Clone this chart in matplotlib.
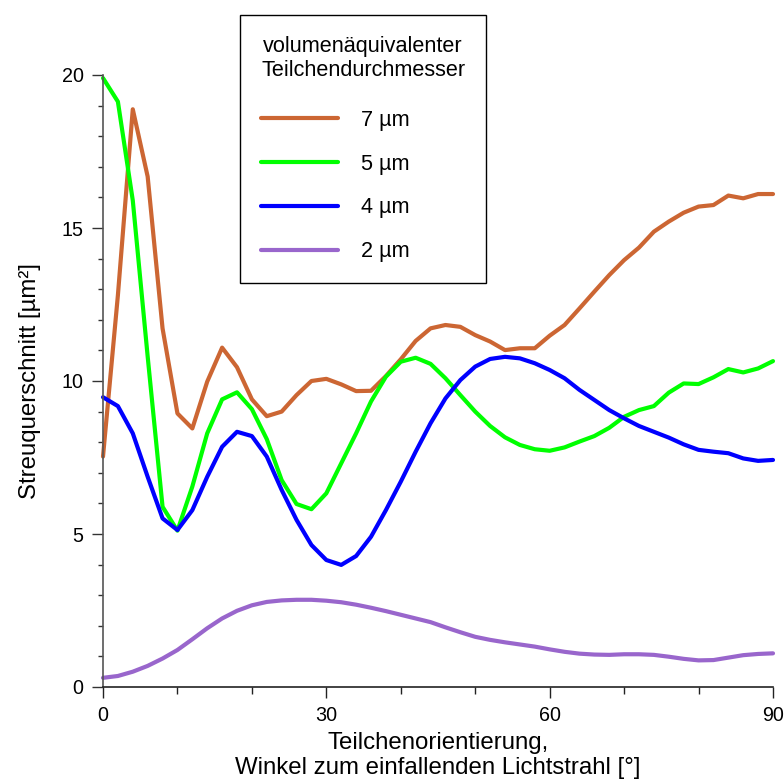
import matplotlib
matplotlib.use("Agg")
import matplotlib.pyplot as plt
from matplotlib.ticker import MultipleLocator, FixedLocator

plt.rcParams['font.family'] = ['Liberation Sans', 'DejaVu Sans']

# Angle (degrees), sampled every 2 degrees
angle = list(range(0, 92, 2))

d7 = [7.53, 12.8, 18.88, 16.68, 11.72, 8.94, 8.45, 9.98, 11.09, 10.45,
      9.40, 8.85, 9.00, 9.54, 10.0, 10.07, 9.89, 9.67, 9.68, 10.16,
      10.71, 11.31, 11.72, 11.83, 11.77, 11.50, 11.29, 11.01, 11.07, 11.07,
      11.48, 11.83, 12.37, 12.92, 13.46, 13.95, 14.36, 14.88, 15.21, 15.50,
      15.70, 15.75, 16.06, 15.97, 16.11, 16.11]

d5 = [19.9, 19.13, 15.9, 10.8, 5.89, 5.11, 6.55, 8.29, 9.40, 9.63,
      9.08, 8.1, 6.76, 5.98, 5.81, 6.33, 7.31, 8.29, 9.33, 10.14,
      10.63, 10.76, 10.56, 10.09, 9.54, 9.0, 8.53, 8.16, 7.91, 7.77,
      7.72, 7.83, 8.02, 8.20, 8.47, 8.83, 9.05, 9.18, 9.62, 9.92,
      9.90, 10.12, 10.39, 10.28, 10.41, 10.65]

d4 = [9.47, 9.18, 8.29, 6.87, 5.51, 5.13, 5.78, 6.87, 7.85, 8.34,
      8.20, 7.53, 6.44, 5.46, 4.64, 4.15, 3.99, 4.28, 4.91, 5.78,
      6.71, 7.69, 8.62, 9.43, 10.03, 10.47, 10.72, 10.79, 10.74, 10.58,
      10.36, 10.09, 9.71, 9.38, 9.05, 8.78, 8.53, 8.34, 8.15, 7.93,
      7.75, 7.69, 7.64, 7.47, 7.39, 7.42]

d2 = [0.30, 0.36, 0.50, 0.69, 0.93, 1.21, 1.56, 1.92, 2.24, 2.49,
      2.67, 2.78, 2.83, 2.85, 2.85, 2.82, 2.77, 2.69, 2.59, 2.48,
      2.36, 2.24, 2.12, 1.95, 1.79, 1.64, 1.54, 1.46, 1.39, 1.32,
      1.23, 1.15, 1.09, 1.06, 1.05, 1.07, 1.07, 1.05, 0.99, 0.92,
      0.87, 0.88, 0.96, 1.04, 1.08, 1.10]

labels = ['7 µm', '5 µm', '4 µm', '2 µm']
colors = ['#CC6633', '#00FF00', '#0000FF', '#9966CC']
series = [d7, d5, d4, d2]

xticks = [0, 30, 60, 90]
yticks = [0, 5, 10, 15, 20]

fig = plt.figure(figsize=(7.84, 7.82), dpi=100)
ax = fig.add_axes([103/784, 1 - 687/782, 670/784, 612/782])

for s, c, l in zip(series, colors, labels):
    ax.plot(angle, s, color=c, lw=3, label=l, solid_capstyle='round', clip_on=False)

ax.set_xlim(0, 90)
ax.set_ylim(0, 20)
ax.xaxis.set_major_locator(FixedLocator(xticks))
ax.xaxis.set_minor_locator(MultipleLocator(10))
ax.yaxis.set_major_locator(FixedLocator(yticks))
ax.yaxis.set_minor_locator(MultipleLocator(1))

for sp in ['top', 'right']:
    ax.spines[sp].set_visible(False)
ax.spines['left'].set_color('#555555')
ax.spines['left'].set_linewidth(1.2)
ax.spines['bottom'].set_color('#222222')
ax.spines['bottom'].set_linewidth(1.2)

ax.tick_params(axis='x', which='major', direction='out', length=8, width=1, color='#222222',
               labelsize=14.2, pad=6)
ax.tick_params(axis='x', which='minor', direction='out', length=5, width=1, color='#222222')
ax.tick_params(axis='y', which='major', direction='out', length=8, width=1, color='#333333',
               labelsize=14.2, pad=6)
ax.tick_params(axis='y', which='minor', direction='out', length=3.8, width=1, color='#333333')

ax.set_xlabel('Teilchenorientierung,\nWinkel zum einfallenden Lichtstrahl [°]', fontsize=17.3,
              linespacing=1.2)
ax.xaxis.set_label_coords(0.5, -0.073)
ax.set_ylabel('Streuquerschnitt [µm²]', fontsize=17.3)
ax.yaxis.set_label_coords(-0.092, 0.5)

leg = ax.legend(title='volumenäquivalenter\nTeilchendurchmesser', loc='upper left',
                bbox_to_anchor=(240/784, 1 - 15/782), bbox_transform=fig.transFigure,
                borderaxespad=0, fontsize=15.6, title_fontsize=15.6, frameon=True,
                fancybox=False, edgecolor='black', framealpha=1, handlelength=3.55,
                handletextpad=1.05, labelspacing=1.05, borderpad=0.97, alignment='left')
leg.get_frame().set_linewidth(1.0)
leg.get_title().set_multialignment('center')
# a bit more room between the legend title and the entries
leg._legend_box.sep = leg._legend_box.sep + 4.3
for h in leg.get_lines():
    h.set_linewidth(3)

fig.savefig('out.png', dpi=100)
